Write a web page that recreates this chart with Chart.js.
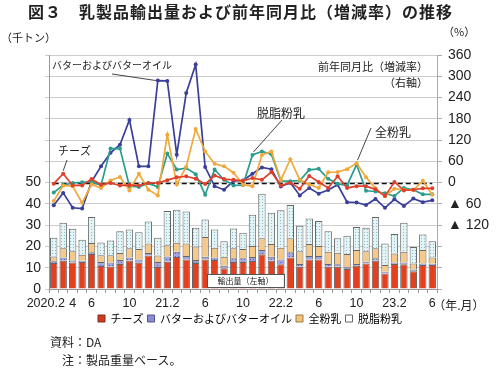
<!DOCTYPE html>
<html><head><meta charset="utf-8">
<script src="https://cdn.jsdelivr.net/npm/chart.js@4.4.0/dist/chart.umd.min.js"></script>
<style>
html,body{margin:0;padding:0;background:#fff;}
#wrap{position:relative;width:500px;height:369px;overflow:hidden;font-family:'Noto Sans CJK JP',sans-serif;color:#222;}
#c{position:absolute;left:0;top:0;}
.t{position:absolute;white-space:nowrap;line-height:1;}
</style></head><body>
<div id="wrap">
<canvas id="c" width="500" height="334"></canvas>
<div class="t" style="left:28px;top:3px;font-size:16px;font-weight:bold;letter-spacing:1px;">図３　乳製品輸出量および前年同月比（増減率）の推移</div>
<div class="t" style="left:1px;top:32px;font-size:11px;">（千トン）</div>
<div class="t" style="left:443px;top:26px;font-size:11px;">（%）</div>
<div class="t" style="left:50px;top:336px;font-size:12px;">資料：DA</div>
<div class="t" style="left:62px;top:354px;font-size:12px;">注：製品重量ベース。</div>
</div>
<script>
const months = ['2020.2','2020.3','2020.4','2020.5','2020.6','2020.7','2020.8','2020.9','2020.10','2020.11','2020.12',
 '2021.1','2021.2','2021.3','2021.4','2021.5','2021.6','2021.7','2021.8','2021.9','2021.10','2021.11','2021.12',
 '2022.1','2022.2','2022.3','2022.4','2022.5','2022.6','2022.7','2022.8','2022.9','2022.10','2022.11','2022.12',
 '2023.1','2023.2','2023.3','2023.4','2023.5','2023.6'];
const tickLabels = ['2020.2','','4','', '6','','','', '10','','','', '21.2','','','', '6','','','', '10','','','',
 '22.2','','','', '6','','','', '10','','','', '23.2','','','', '6'];
const volTicksMax = 50;
const yoyTicksMin = -120;

// export volume (thousand tons), stacked
const cheese = [12.2,13.3,12.5,12.7,16.4,10.8,10.6,11.7,13.4,12.3, 15.8,10.3,12.8,15.0,13.9,12.2,13.9,13.6,9.7,12.7,
 12.7,13.2,16.3,13.3,11.6,14.8,10.5,13.9,13.9,10.5, 10.5,9.4,10.9,12.0,13.3,7.3,11.7,11.6,8.4,11.3, 11.3];
const butter = [0.8,1.5,0.9,0.6,0.9,1.9,1.9,1.9,1.4,1.6, 1.1,2.4,2.5,2.5,1.6,1.4,1.3,1.2,1.2,1.7,
 1.7,1.9,2.0,1.9,2.3,2.5,1.2,1.6,1.6,1.2, 1.1,0.8,0.8,0.8,1.1,0.8,0.8,0.9,0.8,0.7, 0.6];
const wmp = [2.3,4.3,4.4,2.8,4.3,3.2,3.4,3.3,4.3,4.9, 4.5,3.1,5.3,4.2,5.9,6.4,9.2,4.6,4.3,4.7,
 4.4,5.1,5.5,5.9,5.5,6.5,6.1,5.6,4.7,5.8, 5.4,6.2,6.6,5.0,4.7,3.2,4.2,5.0,2.8,6.3, 2.9];
const smp = [8.8,12.0,10.5,7.0,12.3,6.0,6.9,10.3,8.9,7.9, 10.3,8.3,16.1,15.6,15.0,8.8,8.3,8.6,7.3,9.3,
 7.6,14.7,21.0,14.7,17.6,15.7,11.9,12.0,11.8,9.7, 6.8,8.6,10.9,11.0,14.8,10.1,9.1,13.6,7.8,7.3, 7.7];

// year-on-year change (%)
const cheeseYoY = [-3,25,-8,-8,10,-6,-1,-8,-7,-8, -1,-1,7,15,18,11,-4,20,10,8,
 5,13,8,30,-8,0,-17,19,2,-15, 18,-15,-10,-10,-19,-38,2,-22,-20,-16, -16];
const butterYoY = [-64,-29,-71,-73,3,46,84,107,177,46, 46,288,287,79,253,333,44,-10,-20,5,
 6,25,43,38,-11,0,-36,-15,-31,-21, -6,-55,-56,-63,-46,-71,-47,-66,-45,-55, -50];
const wmpYoY = [-52,-8,-10,-57,-5,-15,6,16,-22,25, -20,-36,135,-5,45,151,88,53,46,28,
 -6,-10,78,88,7,66,8,-5,-15,29, 30,38,55,15,-16,-38,-17,-20,-21,5, -34];
const smpYoY = [-28,-7,-1,1,2,-7,96,96,-10,-12, -2,-12,82,37,41,24,-34,37,8,-8,
 -7,78,88,80,5,4,6,36,39,11, -3,-8,51,-23,-25,-30,-38,-15,-20,-33, -33];

const canvas = document.getElementById('c');
const ctx = canvas.getContext('2d');
function dotPattern(bg, dot){
  const c = document.createElement('canvas'); c.width = 3; c.height = 3;
  const g = c.getContext('2d');
  g.fillStyle = bg; g.fillRect(0,0,3,3);
  g.fillStyle = dot; g.fillRect(1,1,1,1);
  return ctx.createPattern(c, 'repeat');
}
const smpPat = dotPattern('#e3f4f7', '#86bccb');
const butterPat = dotPattern('#a4a4e2', '#5d5db4');

const C_CHEESE = '#e2401f', C_WMP = '#f5c98a';
const L_CHEESE = '#e0402a', L_BUTTER = '#3a3f9a', L_WMP = '#f0a93a', L_SMP = '#2a9d8f';
const JP = "'Noto Sans CJK JP', sans-serif";

function barDs(label, data, bg){
  return {type:'bar', label, data, backgroundColor:bg, borderColor:'#666', borderWidth:1,
    yAxisID:'y', stack:'v', order:5, barPercentage:0.78, categoryPercentage:1};
}
function lineDs(label, data, col){
  return {type:'line', label, data, yAxisID:'y2', borderColor:col, backgroundColor:col,
    borderWidth:1.7, pointRadius:2, pointBorderWidth:0, pointBackgroundColor:col, tension:0, order:1};
}

const annot = {
  id:'annot',
  beforeDatasetsDraw(chart){
    const {ctx, scales:{x, y2}} = chart;
    const yy = Math.round(y2.getPixelForValue(0)) + 0.5;
    ctx.save();
    ctx.strokeStyle = '#111'; ctx.lineWidth = 1.5; ctx.setLineDash([5,3]);
    ctx.beginPath();
    ctx.moveTo(x.getPixelForValue(0), yy);
    ctx.lineTo(x.getPixelForValue(months.length-1), yy);
    ctx.stroke();
    ctx.restore();
  },
  afterDatasetsDraw(chart){
    const {ctx, chartArea:a, scales:{x, y2}} = chart;
    const pt = (arr, i) => ({px:x.getPixelForValue(i), py:y2.getPixelForValue(arr[i])});
    ctx.save();
    ctx.fillStyle = '#222'; ctx.strokeStyle = '#444'; ctx.lineWidth = 1;
    ctx.textBaseline = 'middle'; ctx.textAlign = 'left';
    const lab = (txt, tx, ty, size, from, to) => {
      ctx.font = size + 'px ' + JP;
      ctx.fillText(txt, tx, ty);
      if (from && to){
        ctx.beginPath(); ctx.moveTo(from[0], from[1]); ctx.lineTo(to.px, to.py); ctx.stroke();
      }
    };
    let p = pt(butterYoY, 11);
    lab('バターおよびバターオイル', a.left+3, a.top+10, 10, [a.left+63, a.top+19], {px:p.px-2, py:p.py});
    p = pt(cheeseYoY, 1);
    lab('チーズ', a.left+9, a.top+96, 11, [a.left+18, a.top+105], {px:p.px, py:p.py-3});
    p = pt(smpYoY, 21);
    lab('脱脂粉乳', a.left+208, a.top+58, 12, [a.left+233, a.top+65], {px:p.px+1, py:p.py-3});
    p = pt(wmpYoY, 32);
    lab('全粉乳', a.left+326, a.top+77, 12, [a.left+322, a.top+73], {px:p.px+1, py:p.py-3});
    ctx.textAlign = 'right';
    ctx.font = '11px ' + JP;
    ctx.fillText('前年同月比（増減率）', a.right-9, a.top+12);
    ctx.fillText('（右軸）', a.right-9, a.top+28);
    // left-axis label box
    const bx0 = x.getPixelForValue(16) + 2, bx1 = x.getPixelForValue(24) + 3;
    const by0 = a.bottom - 15, by1 = a.bottom - 2;
    ctx.fillStyle = '#fff'; ctx.fillRect(bx0, by0, bx1-bx0, by1-by0);
    ctx.strokeStyle = '#555'; ctx.strokeRect(Math.round(bx0)+0.5, Math.round(by0)+0.5, Math.round(bx1-bx0), Math.round(by1-by0));
    ctx.fillStyle = '#222'; ctx.textAlign = 'center'; ctx.font = '8px ' + JP;
    ctx.fillText('輸出量（左軸）', (bx0+bx1)/2, (by0+by1)/2+0.5);
    // x-axis unit
    ctx.textAlign = 'left'; ctx.font = '12px ' + JP;
    const lx = x.getPixelForValue(months.length-1);
    ctx.fillText('（年.月）', lx + 1, a.bottom + 16);
    ctx.restore();
  }
};

Chart.defaults.font.family = "'Liberation Sans', Arial, 'Noto Sans CJK JP', sans-serif";
Chart.defaults.color = '#222';

new Chart(ctx, {
  data: {
    labels: months,
    datasets: [
      barDs('チーズ', cheese, C_CHEESE),
      barDs('バターおよびバターオイル', butter, butterPat),
      barDs('全粉乳', wmp, C_WMP),
      barDs('脱脂粉乳', smp, smpPat),
      lineDs('チーズ（前年同月比）', cheeseYoY, L_CHEESE),
      lineDs('全粉乳（前年同月比）', wmpYoY, L_WMP),
      lineDs('脱脂粉乳（前年同月比）', smpYoY, L_SMP),
      lineDs('バター（前年同月比）', butterYoY, L_BUTTER)
    ]
  },
  options: {
    responsive:false, animation:false, devicePixelRatio:1,
    layout:{padding:{top:55, left:0, right:0, bottom:0}},
    plugins:{
      tooltip:{enabled:false},
      legend:{
        position:'bottom',
        labels:{
          font:{size:11, family:JP}, color:'#222', boxWidth:7, boxHeight:7, padding:4,
          generateLabels(){
            return [
              {text:'チーズ', fillStyle:'#d33a1c', strokeStyle:'#7a3020', lineWidth:1, datasetIndex:0, hidden:false},
              {text:'バターおよびバターオイル', fillStyle:'#8c8cd6', strokeStyle:'#55558a', lineWidth:1, datasetIndex:1, hidden:false},
              {text:'全粉乳', fillStyle:'#f3c27c', strokeStyle:'#9a7a48', lineWidth:1, datasetIndex:2, hidden:false},
              {text:'脱脂粉乳', fillStyle:'#ffffff', strokeStyle:'#666', lineWidth:1, datasetIndex:3, hidden:false}
            ];
          }
        }
      }
    },
    scales:{
      x:{
        stacked:true, offset:true,
        grid:{display:true, drawOnChartArea:false, offset:true, tickLength:4, color:'#999'},
        border:{color:'#999'},
        ticks:{autoSkip:false, maxRotation:0, minRotation:0, padding:3, font:{size:12.5}, color:'#222',
          callback:(v,i)=> i===0 ? tickLabels[i] + '\u2002\u2002 ' : tickLabels[i]},
        afterFit(s){ s.height = 20; }
      },
      y:{
        stacked:true, min:0, max:110,
        ticks:{stepSize:10, font:{size:14}, color:'#222', padding:4,
          callback:v => v <= volTicksMax ? v : ''},
        grid:{color:'#cdcdcd', tickLength:4},
        border:{color:'#999'},
        afterFit(s){ s.width = 49; }
      },
      y2:{
        position:'right', stacked:false, min:-300, max:360,
        ticks:{stepSize:60, font:{size:14}, color:'#222', padding:6,
          callback:v => v < yoyTicksMin ? '' : (v < 0 ? '▲ ' + (-v) : String(v))},
        grid:{drawOnChartArea:false, tickLength:5, color:'#aaa'},
        border:{color:'#aaa'},
        afterFit(s){ s.width = 63; }
      }
    }
  },
  plugins:[annot]
});
</script>
</body></html>
